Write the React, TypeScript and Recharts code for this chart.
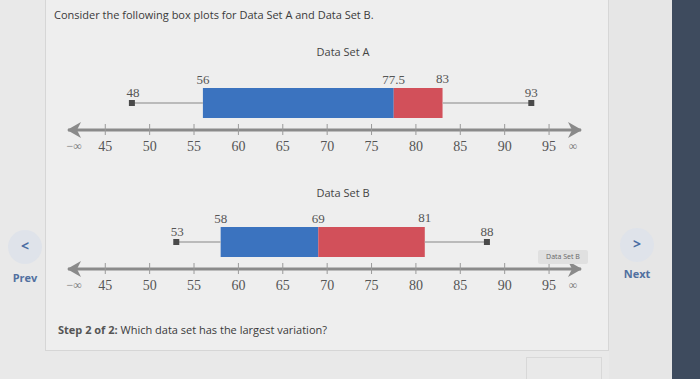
import React from 'react';
import { ComposedChart, Bar, XAxis, YAxis, ReferenceLine, ReferenceDot } from 'recharts';

const datasetNames = ['Data Set A', 'Data Set B'];
const minimums = [48, 53];
const firstQuartiles = [56, 58];
const medians = [77.5, 69];
const thirdQuartiles = [83, 81];
const maximums = [93, 88];
const medianLabels = ['77.5', '69'];
const tickValues = [45, 50, 55, 60, 65, 70, 75, 80, 85, 90, 95];
const domainMin = 40.8;
const domainMax = 98.6;
const negInfPos = 41.5;
const posInfPos = 97.7;

const BLUE = '#3b73bf';
const RED = '#d2505a';
const SERIF = '"Liberation Serif", "DejaVu Serif", serif';
const SANS = '"Open Sans", "Noto Sans", sans-serif';

const AxisTick = (props: any) => {
  const { x, y, payload } = props;
  const v = payload.value;
  if (v === domainMin) {
    return <path d={`M${x - 1},${y} L${x + 13},${y - 8} L${x + 9},${y} L${x + 13},${y + 8} Z`} fill="#8a8a8a" />;
  }
  if (v === domainMax) {
    return <path d={`M${x + 1},${y} L${x - 13},${y - 8} L${x - 9},${y} L${x - 13},${y + 8} Z`} fill="#8a8a8a" />;
  }
  if (v === negInfPos) {
    return <text x={x} y={y + 20} textAnchor="middle" fontFamily={SERIF} fontSize={12} fill="#777">−∞</text>;
  }
  if (v === posInfPos) {
    return <text x={x} y={y + 20} textAnchor="middle" fontFamily={SERIF} fontSize={12} fill="#777">∞</text>;
  }
  return (
    <g>
      <line x1={x} x2={x} y1={y - 6} y2={y + 5} stroke="#9a9a9a" strokeWidth={1} />
      <text x={x} y={y + 21} textAnchor="middle" fontFamily={SERIF} fontSize={14} fill="#555">{v}</text>
    </g>
  );
};

const labelShape = (text: string, dy: number, dx = 0) => (p: any) => (
  <text x={p.cx + dx} y={p.cy + dy} textAnchor="middle" fontFamily={SERIF} fontSize={13} fill="#555">{text}</text>
);

const squareShape = (p: any) => <rect x={p.cx - 3} y={p.cy - 3} width={6} height={6} fill="#4a4a4a" />;

function BoxChart({ i }: { i: number }) {
  const name = datasetNames[i];
  const data = [{
    name,
    base: firstQuartiles[i],
    lower: medians[i] - firstQuartiles[i],
    upper: thirdQuartiles[i] - medians[i],
  }];
  const ticks = [domainMin, negInfPos, ...tickValues, posInfPos, domainMax];
  return (
    <ComposedChart width={700} height={160} data={data} layout="vertical"
      margin={{ top: 76, right: 119, bottom: 0, left: 68 }}>
      <XAxis type="number" domain={[domainMin, domainMax]} allowDataOverflow ticks={ticks} interval={0}
        tick={<AxisTick />} tickLine={false} tickSize={0} tickMargin={0} height={30}
        axisLine={{ stroke: '#8a8a8a', strokeWidth: 3 }} />
      <YAxis type="category" dataKey="name" hide />
      <Bar dataKey="base" stackId="s" fill="transparent" barSize={30} isAnimationActive={false} />
      <Bar dataKey="lower" stackId="s" fill={BLUE} barSize={30} isAnimationActive={false} />
      <Bar dataKey="upper" stackId="s" fill={RED} barSize={30} isAnimationActive={false} />
      <ReferenceLine segment={[{ x: minimums[i], y: name }, { x: firstQuartiles[i], y: name }]} stroke="#a8a8a8" strokeWidth={1.5} />
      <ReferenceLine segment={[{ x: thirdQuartiles[i], y: name }, { x: maximums[i], y: name }]} stroke="#a8a8a8" strokeWidth={1.5} />
      <ReferenceDot x={minimums[i]} y={name} shape={squareShape} />
      <ReferenceDot x={maximums[i]} y={name} shape={squareShape} />
      <ReferenceDot x={minimums[i]} y={name} shape={labelShape(String(minimums[i]), -6, 1)} />
      <ReferenceDot x={maximums[i]} y={name} shape={labelShape(String(maximums[i]), -6, 0)} />
      <ReferenceDot x={firstQuartiles[i]} y={name} shape={labelShape(String(firstQuartiles[i]), -19, 0)} />
      <ReferenceDot x={medians[i]} y={name} shape={labelShape(medianLabels[i], -19, 0)} />
      <ReferenceDot x={thirdQuartiles[i]} y={name} shape={labelShape(String(thirdQuartiles[i]), -20, 0)} />
    </ComposedChart>
  );
}

const navBtn = (cx: number, cy: number, glyph: string, label: string, ly: number) => (
  <>
    <div style={{ position: 'absolute', left: cx - 17, top: cy - 17, width: 34, height: 34, borderRadius: 17, background: '#dfe3ea' }} />
    <div style={{ position: 'absolute', left: cx - 17, top: cy - 11, width: 34, textAlign: 'center', fontFamily: SANS, fontWeight: 700, fontSize: 14, color: '#4a6da3' }}>{glyph}</div>
    <div style={{ position: 'absolute', left: cx - 25, top: ly, width: 50, textAlign: 'center', fontFamily: SANS, fontWeight: 700, fontSize: 11, color: '#5170a0' }}>{label}</div>
  </>
);

export default function App() {
  return (
    <div style={{ position: 'absolute', left: 0, top: 0, width: 700, height: 379, overflow: 'hidden', background: '#e9e9e9' }}>
      <div style={{ position: 'absolute', left: 45, top: 0, width: 562, height: 350, background: '#eeeeee', borderLeft: '1px solid #d6d6d6', borderRight: '1px solid #d6d6d6', borderBottom: '1px solid #d6d6d6' }} />
      <div style={{ position: 'absolute', left: 609, top: 0, width: 63, height: 379, background: '#e6e6e6' }} />
      <div style={{ position: 'absolute', left: 672, top: 0, width: 28, height: 379, background: '#3e4b5e' }} />
      <div style={{ position: 'absolute', left: 54, top: 7, fontFamily: SANS, fontSize: 11, color: '#3a3a3a', whiteSpace: 'nowrap' }}>
        Consider the following box plots for Data Set A and Data Set B.
      </div>
      <div style={{ position: 'absolute', left: 0, top: 0 }}>
        <BoxChart i={0} />
      </div>
      <div style={{ position: 'absolute', left: 0, top: 139 }}>
        <BoxChart i={1} />
      </div>
      <div style={{ position: 'absolute', left: 293, top: 44, width: 100, textAlign: 'center', fontFamily: SANS, fontSize: 11, color: '#444' }}>{datasetNames[0]}</div>
      <div style={{ position: 'absolute', left: 293, top: 185, width: 100, textAlign: 'center', fontFamily: SANS, fontSize: 11, color: '#444' }}>{datasetNames[1]}</div>
      <div style={{ position: 'absolute', left: 538, top: 250, width: 50, height: 14, background: '#e0e0e0', borderRadius: 2, textAlign: 'center', fontFamily: SANS, fontSize: 7, lineHeight: '14px', color: '#666' }}>{datasetNames[1]}</div>
      <div style={{ position: 'absolute', left: 58, top: 322, fontFamily: SANS, fontSize: 11, color: '#3a3a3a', whiteSpace: 'nowrap' }}>
        <b style={{ color: '#555' }}>Step 2 of 2:</b> Which data set has the largest variation?
      </div>
      <div style={{ position: 'absolute', left: 526, top: 357, width: 74, height: 22, border: '1px solid #d8d8d8', borderBottom: 'none' }} />
      {navBtn(25, 247, '<', 'Prev', 270)}
      {navBtn(637, 245, '>', 'Next', 266)}
    </div>
  );
}
